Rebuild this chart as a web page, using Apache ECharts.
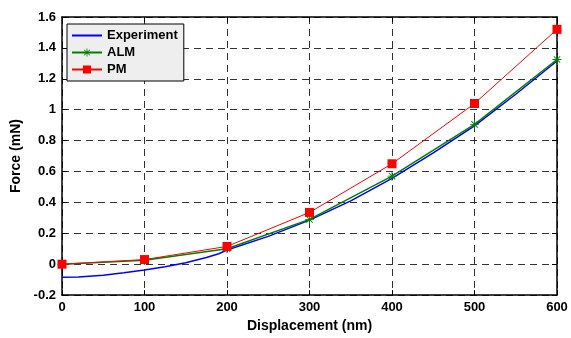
<!DOCTYPE html>
<html>
<head>
<meta charset="utf-8">
<script src="https://cdn.jsdelivr.net/npm/echarts@6/dist/echarts.min.js"></script>
<style>
  html, body { margin: 0; padding: 0; background: #fff; }
  #chart { width: 571px; height: 338px; }
</style>
</head>
<body>
<div id="chart"></div>
<script>
// displacement (nm) and force (mN)
let xModel = [0, 100, 200, 300, 400, 500, 600];
let almForce = [0, 0.025, 0.10, 0.29, 0.57, 0.905, 1.325];
let pmForce = [0, 0.03, 0.115, 0.335, 0.65, 1.04, 1.52];
let xExp = [0, 20, 50, 75, 100, 125, 150, 175, 190, 200, 250, 300, 350, 400, 450, 500, 550, 600];
let expForce = [-0.085, -0.083, -0.072, -0.056, -0.038, -0.016, 0.01, 0.043, 0.068, 0.092, 0.18, 0.285, 0.41, 0.555, 0.72, 0.895, 1.1, 1.315];

function pairs(xs, ys) {
  return xs.map(function (x, i) { return [x, ys[i]]; });
}

let font = 'Liberation Sans, Arial, sans-serif';
let asterisk = 'path://M9,0h2v20h-2z M0,9h20v2h-20z M2.2,3.6l1.4,-1.4l14.2,14.2l-1.4,1.4z M16.4,2.2l1.4,1.4l-14.2,14.2l-1.4,-1.4z';
let dash = { color: '#333', type: [7, 5], width: 1 };
let tick = { inside: true, length: 5, lineStyle: { color: '#000' } };
let axLine = { show: true, onZero: false, lineStyle: { color: '#000', width: 1.5 } };

let mychart = echarts.init(document.getElementById('chart'));
mychart.setOption({
  animation: false,
  grid: { left: 62, right: 14, top: 17, bottom: 36 },
  legend: {
    left: 67, top: 24, orient: 'vertical',
    backgroundColor: '#eeeeee', borderColor: '#000', borderWidth: 1,
    padding: [5, 6, 5, 4], itemGap: 4, itemWidth: 30, itemHeight: 10,
    textStyle: { fontFamily: font, fontWeight: 'bold', fontSize: 13, color: '#000' },
    data: [
      { name: 'Experiment', itemStyle: { opacity: 0 } },
      'ALM', 'PM'
    ]
  },
  xAxis: [{
    type: 'value', min: 0, max: 600, interval: 100,
    name: 'Displacement (nm)', nameLocation: 'middle', nameGap: 20,
    nameTextStyle: { fontFamily: font, fontWeight: 'bold', fontSize: 14, color: '#000' },
    axisLine: axLine, axisTick: tick,
    axisLabel: { fontFamily: font, fontWeight: 'bold', fontSize: 13, color: '#000', margin: 6 },
    splitLine: { show: true, lineStyle: dash }
  }, {
    type: 'value', min: 0, max: 600, interval: 100, position: 'top',
    axisLine: axLine, axisTick: tick, axisLabel: { show: false }, splitLine: { show: false }
  }],
  yAxis: [{
    type: 'value', min: -0.2, max: 1.6, interval: 0.2,
    name: 'Force (mN)', nameLocation: 'middle', nameGap: 37,
    nameTextStyle: { fontFamily: font, fontWeight: 'bold', fontSize: 14, color: '#000' },
    axisLine: axLine, axisTick: tick,
    axisLabel: {
      fontFamily: font, fontWeight: 'bold', fontSize: 13, color: '#000', margin: 6,
      formatter: function (v) { return String(Math.round(v * 10) / 10); }
    },
    splitLine: { show: true, lineStyle: dash }
  }, {
    type: 'value', min: -0.2, max: 1.6, interval: 0.2, position: 'right',
    axisLine: axLine, axisTick: tick, axisLabel: { show: false }, splitLine: { show: false }
  }],
  series: [
    {
      name: 'Experiment', type: 'line', data: pairs(xExp, expForce),
      symbol: 'none', z: 3,
      lineStyle: { color: '#0000ff', width: 1.5 }, itemStyle: { color: '#0000ff' }
    },
    {
      name: 'ALM', type: 'line', data: pairs(xModel, almForce),
      symbol: asterisk, symbolSize: 9, z: 4,
      lineStyle: { color: '#008000', width: 1.5 }, itemStyle: { color: '#008000' }
    },
    {
      name: 'PM', type: 'line', data: pairs(xModel, pmForce),
      symbol: 'rect', symbolSize: 9, z: 5,
      lineStyle: { color: '#ff0000', width: 1 }, itemStyle: { color: '#ff0000' }
    }
  ]
});
</script>
</body>
</html>
